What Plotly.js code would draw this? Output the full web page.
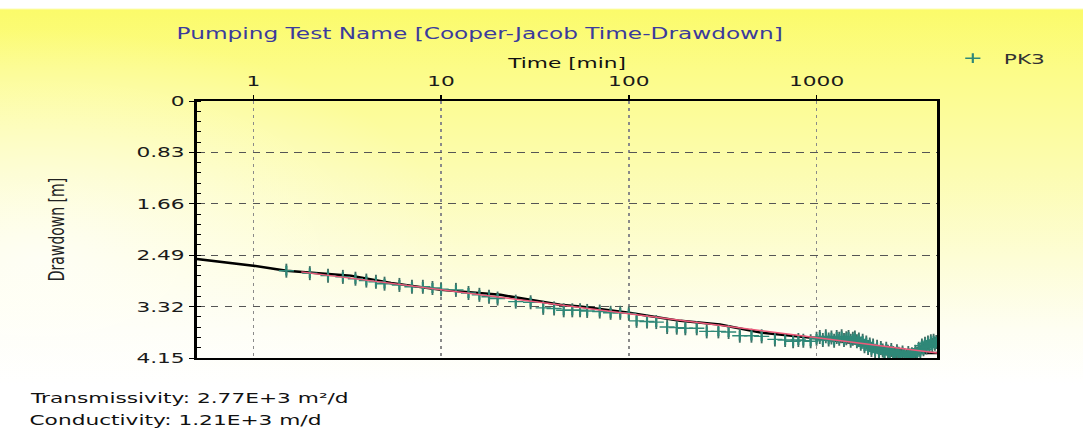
<!DOCTYPE html>
<html><head><meta charset="utf-8">
<script src="https://cdn.plot.ly/plotly-3.0.1.min.js"></script>
<style>
html,body{margin:0;padding:0;width:1083px;height:431px;overflow:hidden;background:#fff;}
#bg{position:absolute;left:0;top:0;width:1083px;height:431px;
 background:
  radial-gradient(ellipse 420px 230px at 40px 260px, rgba(255,255,255,0.75), rgba(255,255,255,0)),
  linear-gradient(to bottom, #ffffff 0px, #ffffff 8px, #fbfb6a 10px, #fcfc88 70px, #fcfcb0 170px, #fdfdd6 260px, #fefef2 330px, #ffffff 385px);}
#chart{position:absolute;left:0;top:0;width:699px;height:431px;transform:scaleX(1.5494);transform-origin:0 0;}
</style></head>
<body>
<div id="bg"></div>
<div id="chart"></div>
<script>
// ---- data ----
const lineTime = [0.5, 1, 1.5, 3.3, 5.4, 10, 20.7, 43, 55, 100, 188, 305, 505, 640, 1000, 1500, 2450, 2800, 2950, 4400];
const lineDrawdown = [2.55, 2.66, 2.74, 2.82, 2.94, 3.05, 3.13, 3.29, 3.32, 3.42, 3.55, 3.61, 3.74, 3.77, 3.83, 3.90, 3.99, 4.01, 4.07, 4.07];

const fitTime = [1.8, 4400];
const fitDrawdown = [2.76, 4.07];

const pk3Time = [1.5, 2, 2.5, 3, 3.5, 4, 4.5, 5, 6, 7, 8, 9, 10, 12, 14, 16, 18, 20, 25, 30, 35, 40, 45, 50, 55,
  60, 70, 80, 90, 100, 110, 125, 140, 160, 180, 200, 230, 260, 300, 340, 390, 450, 510, 600, 680, 750, 800, 850, 930,
  1000, 1040, 1080, 1120, 1160, 1200, 1240, 1280, 1320, 1360, 1400, 1440, 1480, 1520, 1560, 1600, 1640, 1680,
  1720, 1760, 1800, 1840, 1880, 1920, 1960, 2000, 2050, 2100, 2150, 2200, 2250, 2300, 2350, 2400, 2450, 2500,
  2560, 2620, 2680, 2740, 2800, 2870, 2940, 3010, 3080, 3150, 3220, 3290, 3360, 3430, 3500, 3570, 3640, 3710,
  3780, 3850, 3920, 3990, 4060, 4130, 4200, 4270, 4340];
const pk3Drawdown = [2.74, 2.78, 2.82, 2.84, 2.87, 2.90, 2.92, 2.95, 2.97, 3.00, 3.00, 3.02, 3.04, 3.05, 3.10, 3.13, 3.16, 3.19, 3.24, 3.25, 3.34, 3.35, 3.38, 3.38, 3.38,
  3.39, 3.40, 3.42, 3.42, 3.43, 3.55, 3.56, 3.57, 3.65, 3.66, 3.67, 3.67, 3.72, 3.72, 3.73, 3.79, 3.79, 3.80, 3.85, 3.86, 3.88, 3.86, 3.87, 3.88,
  3.84, 3.81, 3.86, 3.80, 3.85, 3.82, 3.87, 3.81, 3.84, 3.80, 3.86, 3.83, 3.81, 3.87, 3.84, 3.82, 3.88, 3.85,
  3.92, 3.87, 3.96, 3.90, 3.99, 3.93, 4.02, 3.95, 4.04, 3.97, 4.06, 3.99, 4.03, 4.08, 4.00, 4.05, 4.09, 4.02,
  4.07, 4.10, 4.04, 4.08, 4.11, 4.06, 4.10, 4.12, 4.07, 4.11, 4.09, 4.12, 4.05, 4.08, 4.00, 4.04, 3.95, 4.01,
  3.92, 3.98, 3.90, 3.96, 3.88, 3.94, 3.87, 3.92, 3.89];

const xTickVals = [1, 10, 100, 1000];
const xTickText = ['1', '10', '100', '1000'];
const yTickVals = [0, 0.83, 1.66, 2.49, 3.32, 4.15];
const yTickText = ['0', '0.83', '1.66', '2.49', '3.32', '4.15'];

const chartTitle = 'Pumping Test Name [Cooper-Jacob Time-Drawdown]';
const xTitle = 'Time [min]';
const yTitle = 'Drawdown [m]';
const seriesName = 'PK3';
const infoLines = ['Transmissivity: 2.77E+3 m²/d', 'Conductivity: 1.21E+3 m/d'];

// ---- chart ----
const FONT = 'DejaVu Sans, Liberation Sans, Arial, sans-serif';
const teal = '#2f8878';

const traces = [
  { x: lineTime, y: lineDrawdown, type: 'scatter', mode: 'lines', showlegend: false, hoverinfo: 'skip',
    line: { color: '#000000', width: 2.5 } },
  { x: pk3Time, y: pk3Drawdown, type: 'scatter', mode: 'markers', showlegend: false, hoverinfo: 'skip',
    marker: { symbol: 'line-ns', size: 10, line: { color: '#3f6e64', width: 1.2 } } },
  { x: pk3Time, y: pk3Drawdown, type: 'scatter', mode: 'markers', name: seriesName,
    marker: { symbol: 'cross-thin', size: 7, color: teal, line: { color: teal, width: 1.4 } } },
  { x: fitTime, y: fitDrawdown, type: 'scatter', mode: 'lines', showlegend: false, hoverinfo: 'skip',
    line: { color: '#ee5a7a', width: 1.4 } }
];

const annotations = infoLines.map((t, i) => ({
  text: t, xref: 'paper', yref: 'paper', x: -0.2293, y: [-0.1556, -0.2412][i],
  xanchor: 'left', yanchor: 'middle', showarrow: false,
  font: { family: FONT, size: 14, color: '#111111' }
}));

const layout = {
  width: 699, height: 431,
  margin: { l: 127, r: 94, t: 101, b: 73, pad: 0 },
  paper_bgcolor: 'rgba(0,0,0,0)', plot_bgcolor: 'rgba(0,0,0,0)',
  font: { family: FONT, size: 14, color: '#1a1a1a' },
  title: { text: chartTitle, font: { family: FONT, size: 15, color: '#3b3b9c' },
    xref: 'container', x: 114 / 699, xanchor: 'left', yref: 'container', y: 1 - 34 / 431, yanchor: 'middle' },
  showlegend: true,
  legend: { x: 1.006, y: 1.165, xanchor: 'left', yanchor: 'middle', bgcolor: 'rgba(0,0,0,0)',
    font: { family: FONT, size: 14, color: '#333333' }, itemwidth: 30 },
  xaxis: {
    type: 'log', side: 'top', range: [Math.log10(0.5), Math.log10(4400)],
    tickmode: 'array', tickvals: xTickVals, ticktext: xTickText,
    ticks: 'outside', ticklen: 4, tickcolor: '#000', tickwidth: 1, ticklabelstandoff: 3,
    showline: true, linecolor: '#000', linewidth: 2, mirror: true,
    showgrid: true, gridcolor: '#8a8a8a', gridwidth: 1, griddash: '3px,4px', zeroline: false,
    tickfont: { family: FONT, size: 14, color: '#1a1a1a' },
    title: { text: xTitle, font: { family: FONT, size: 14, color: '#111' }, standoff: 1 }
  },
  yaxis: {
    range: [4.15, 0], tickmode: 'array', tickvals: yTickVals, ticktext: yTickText,
    ticks: 'outside', ticklen: 3, tickcolor: '#000', tickwidth: 1,
    minor: { dtick: 0.166, tick0: 0, ticks: 'inside', ticklen: 3, tickcolor: '#000', showgrid: false },
    showline: true, linecolor: '#000', linewidth: 2, mirror: true,
    showgrid: true, gridcolor: '#555', gridwidth: 1, griddash: '5px,4px', zeroline: false,
    tickfont: { family: FONT, size: 14, color: '#1a1a1a' },
    title: { text: yTitle, font: { family: FONT, size: 14, color: '#222' }, standoff: 43 }
  },
  annotations: annotations
};

Plotly.newPlot('chart', traces, layout, { staticPlot: true, displayModeBar: false });
</script>
</body></html>
